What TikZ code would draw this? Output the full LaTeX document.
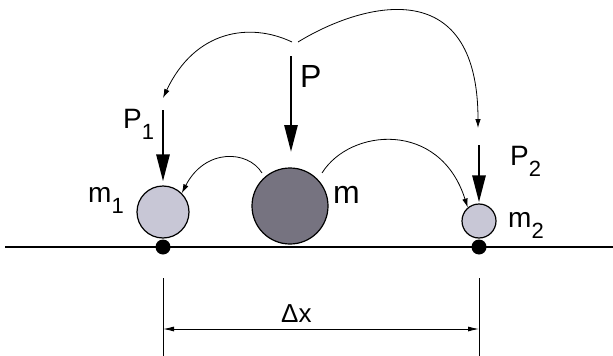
\documentclass[tikz,border=0pt]{standalone}
\usepackage{fontspec}
\setmainfont{Liberation Sans}
\usetikzlibrary{arrows.meta}
\definecolor{lightmass}{RGB}{200,199,214}
\definecolor{darkmass}{RGB}{118,115,128}
\newcommand{\lblsub}[2]{#1\raisebox{-11pt}{\fontsize{22}{22}\selectfont #2}}
\begin{document}
\begin{tikzpicture}[x=1pt,y=-1pt,
  mass/.style={circle,draw=black,line width=1.2pt,inner sep=0pt},
  dotnode/.style={circle,fill=black,inner sep=0pt,minimum size=15pt},
  force/.style={line width=2.8pt,-{Triangle[length=27pt,width=13pt]}},
  flow/.style={line width=0.8pt,-{Latex[length=9pt,width=5.5pt]}},
  lbl/.style={anchor=base west,inner sep=0pt,font=\fontsize{28}{28}\selectfont},
  biglbl/.style={anchor=base west,inner sep=0pt,font=\fontsize{32}{32}\selectfont},
  dimline/.style={line width=0.9pt}]
\useasboundingbox (0,0) rectangle (613,356);
% ground
\coordinate (gl) at (5,247);
\coordinate (gr) at (613,247);
\draw[line width=1.2pt] (gl) -- (gr);
% masses
\node[mass,fill=lightmass,minimum size=52pt] (m1) at (163,212) {};
\node[mass,fill=darkmass,minimum size=76pt] (m) at (290,206) {};
\node[mass,fill=lightmass,minimum size=34pt] (m2) at (479,221) {};
% support dots
\node[dotnode] (d1) at (163,247) {};
\node[dotnode] (d2) at (479,247) {};
\draw[line width=2.4pt] (d1) -- (d2);
% force arrows
\coordinate (ptop) at (291,56);
\coordinate (ptip) at (291,152);
\coordinate (p1top) at (163,110);
\coordinate (p2top) at (479,145);
\draw[force] (ptop) -- (ptip);
\draw[force] (p1top) -- ([yshift=4pt]m1.north);
\draw[force] (p2top) -- ([yshift=1pt]m2.north);
% labels
\node[biglbl] (lP) at (300,87) {P};
\node[lbl] (lP1) at (123,128) {\lblsub{P}{1}};
\node[lbl] (lP2) at (510,165) {\lblsub{P}{2}};
\node[lbl] (lm1) at (88,202) {\lblsub{m}{1}};
\node[biglbl] (lm) at (333,203) {m};
\node[lbl] (lm2) at (508,227) {\lblsub{m}{2}};
% flow curves
\coordinate (sl) at (292,42);
\coordinate (sr) at (298,42);
\coordinate (t1) at (163,98);
\coordinate (t2) at (478,128);
\draw[flow] (sl) .. controls (250,22) and (195,30) .. (t1);
\draw[flow] (sr) .. controls (360,4) and (478,-30) .. (t2);
\coordinate (ml) at (262,173);
\coordinate (mr) at (322,173);
\draw[flow] (ml) .. controls (248,150) and (205,148) .. (m1.45);
\draw[flow] (mr) .. controls (350,128) and (440,120) .. (m2.130);
% dimension
\coordinate (v1a) at (163,278);
\coordinate (v1b) at (163,356);
\coordinate (v2a) at (479,278);
\coordinate (v2b) at (479,356);
\draw[dimline] (v1a) -- (v1b);
\draw[dimline] (v2a) -- (v2b);
\coordinate (a1) at (163,329);
\coordinate (a2) at (479,329);
\draw[dimline,{Latex[length=11pt,width=5pt]}-{Latex[length=11pt,width=5pt]}] (a1) -- (a2);
\node[anchor=base west,inner sep=0pt,font=\fontsize{26}{26}\selectfont] (dx) at (281,322) {Δx};
\end{tikzpicture}
\end{document}
